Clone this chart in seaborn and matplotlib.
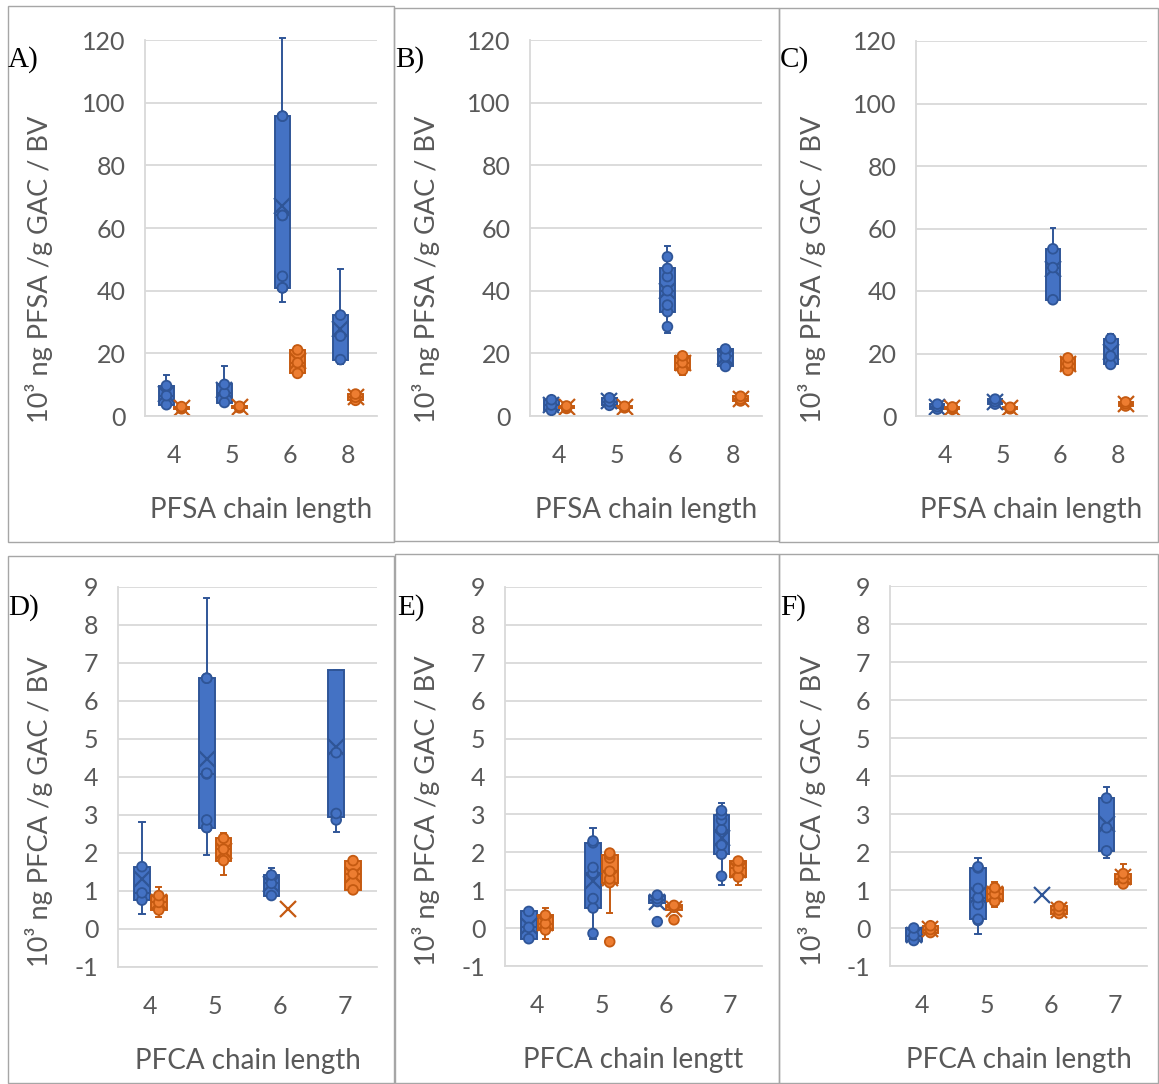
import numpy as np
import pandas as pd
import matplotlib
matplotlib.use("Agg")
import matplotlib.pyplot as plt
from matplotlib.patches import Rectangle
import seaborn as sns

plt.rcParams['font.family'] = ['Lato', 'DejaVu Sans']

# ---------------- data ----------------
series = ['Series 1', 'Series 2']
cats_pfsa = ['4', '5', '6', '8']
cats_pfca = ['4', '5', '6', '7']

ylabel_pfsa = '10³ ng PFSA /g GAC / BV'
ylabel_pfca = '10³ ng PFCA /g GAC / BV'
xlabels = ['PFSA chain length', 'PFSA chain length', 'PFSA chain length',
           'PFCA chain length', 'PFCA chain lengtt', 'PFCA chain length']
panel_tags = ['A)', 'B)', 'C)', 'D)', 'E)', 'F)']

A_blue = [[3.0, 3.6, 6.5, 9.7, 13.1], [3.9, 4.3, 7.3, 10.1, 16.0],
          [36.5, 40.9, 40.9, 44.6, 64.0, 64.0, 95.7, 95.7, 120.5], [16.5, 18.0, 25.5, 32.2, 46.9]]
A_orange = [[2.0, 2.3, 2.6, 3.0, 3.3], [2.3, 2.6, 2.9, 3.1, 3.3],
            [13.0, 13.6, 17.0, 21.1, 22.4], [4.5, 5.0, 6.0, 7.0, 7.5]]

B_blue = [[1.0, 1.8, 3.5, 5.2, 5.8], [3.0, 3.4, 4.6, 5.8, 6.4],
          [26.4, 28.5, 33.3, 35.4, 40.0, 44.5, 47.1, 50.8, 54.2], [15.0, 15.8, 19.0, 21.4, 22.3]]
B_orange = [[2.0, 2.4, 2.8, 3.2, 3.6], [2.3, 2.6, 2.9, 3.1, 3.3],
            [13.2, 14.6, 17.0, 19.2, 20.2], [4.2, 4.8, 5.4, 6.3, 6.8]]

C_blue = [[1.5, 2.2, 3.0, 3.8, 4.2], [3.2, 3.8, 4.6, 5.4, 6.0],
          [36.8, 37.2, 47.5, 53.5, 60.1], [15.8, 16.5, 19.2, 24.8, 26.4]]
C_orange = [[1.8, 2.1, 2.5, 2.9, 3.1], [2.0, 2.3, 2.6, 2.8, 3.0],
            [13.6, 14.6, 16.8, 18.6, 19.6], [2.6, 3.2, 3.9, 4.5, 5.0]]

D_blue = [[0.40, 0.76, 0.95, 1.64, 2.82], [1.95, 2.67, 2.67, 2.87, 4.08, 4.10, 6.60, 6.60, 8.70],
          [0.83, 0.88, 1.20, 1.42, 1.61], [2.54, 2.87, 3.04, 4.64, 6.82, 6.82, 6.82]]
D_orange = [[0.32, 0.50, 0.70, 0.88, 1.10], [1.42, 1.80, 2.10, 2.39, 2.52],
            [0.52], [0.97, 1.03, 1.45, 1.80, 1.84]]

E_blue = [[-0.30, -0.28, 0.02, 0.44, 0.46], [-0.29, -0.14, 0.53, 0.78, 1.45, 1.60, 2.25, 2.30, 2.65],
          [0.17, 0.65, 0.70, 0.78, 0.87, 0.89], [1.13, 1.37, 1.95, 2.19, 2.60, 2.85, 2.99, 3.10, 3.31]]
E_orange = [[-0.28, -0.05, 0.12, 0.34, 0.54], [-0.36, 0.39, 1.20, 1.30, 1.50, 1.85, 1.94, 1.98, 2.02],
            [0.22, 0.48, 0.55, 0.60, 0.65], [1.13, 1.35, 1.58, 1.77, 1.80]]

F_blue = [[-0.36, -0.33, -0.20, 0.00, 0.03], [-0.16, 0.20, 0.23, 0.62, 0.80, 1.04, 1.58, 1.61, 1.83],
          [0.88], [1.85, 2.03, 2.64, 3.42, 3.71]]
F_orange = [[-0.20, -0.12, -0.04, 0.06, 0.15], [0.54, 0.70, 0.90, 1.06, 1.21],
            [0.30, 0.38, 0.47, 0.57, 0.66], [1.10, 1.16, 1.30, 1.43, 1.69]]

yticks_pfsa = [0, 20, 40, 60, 80, 100, 120]
yticks_pfca = [-1, 0, 1, 2, 3, 4, 5, 6, 7, 8, 9]

# ---------------- style ----------------
FILL = {'Series 1': '#4472C4', 'Series 2': '#ED7D31'}
EDGE = {'Series 1': '#2F5597', 'Series 2': '#C55A11'}
TXT = '#595959'
GRID = '#d9d9d9'
BOX_WIDTH = 0.52
W, H = 1159, 1084

fig = plt.figure(figsize=(W / 100, H / 100), dpi=100)

# panel frames (pixels: x0, y0, x1, y1)
frames = [(8, 6, 394, 542), (394, 8, 779, 541), (779, 8, 1158, 542),
          (8, 556, 394, 1083), (395, 554, 779, 1083), (779, 554, 1158, 1083)]
for (x0, y0, x1, y1) in frames:
    fig.add_artist(Rectangle((x0 / W, 1 - y1 / H), (x1 - x0) / W, (y1 - y0) / H,
                             transform=fig.transFigure, fill=False,
                             edgecolor='#a6a6a6', linewidth=1.0))

# plot areas (pixels: left, top, right, bottom)
areas = [(145, 40, 377, 416), (530, 40, 762, 416), (916, 41, 1147, 416),
         (118, 587, 377, 967), (505, 587, 762, 966), (890, 586, 1147, 966)]
ylab_right = [53, 440, 826, 53, 440, 826]
tag_pos = [(8, 67), (395, 67), (780, 67), (8, 615), (397, 615), (780, 615)]

panels = [(cats_pfsa, A_blue, A_orange), (cats_pfsa, B_blue, B_orange), (cats_pfsa, C_blue, C_orange),
          (cats_pfca, D_blue, D_orange), (cats_pfca, E_blue, E_orange), (cats_pfca, F_blue, F_orange)]


def make_df(cats, blue, orange):
    rows = []
    for s, groups in zip(series, (blue, orange)):
        for c, vals in zip(cats, groups):
            for v in vals:
                rows.append((c, s, v))
    return pd.DataFrame(rows, columns=['chain', 'series', 'value'])


def inner_points_df(cats, blue, orange):
    """Points drawn as circles: values strictly inside the whisker range, plus outliers."""
    rows = []
    for s, groups in zip(series, (blue, orange)):
        for c, vals in zip(cats, groups):
            a = np.asarray(vals, float)
            if len(a) < 2:
                continue
            q1, q3 = np.percentile(a, [25, 75])
            lo_f, hi_f = q1 - 1.5 * (q3 - q1), q3 + 1.5 * (q3 - q1)
            inl = a[(a >= lo_f) & (a <= hi_f)]
            lo, hi = inl.min(), inl.max()
            for v in a:
                if (lo < v < hi) or v < lo_f or v > hi_f:
                    rows.append((c, s, v))
    return pd.DataFrame(rows, columns=['chain', 'series', 'value'])


def hide_degenerate(ax, np0, nl0):
    for p in ax.patches[np0:]:
        v = p.get_path().vertices
        if np.ptp(v[:, 1]) < 1e-12:
            p.set_visible(False)
            xmn, xmx, yv = v[:, 0].min(), v[:, 0].max(), v[0, 1]
            for ln in ax.lines[nl0:]:
                xd = np.asarray(ln.get_xdata(), float)
                yd = np.asarray(ln.get_ydata(), float)
                if len(xd) >= 2 and np.allclose(yd, yv) and xmn - 1e-6 <= xd.mean() <= xmx + 1e-6:
                    ln.set_visible(False)


for i, (cats, blue, orange) in enumerate(panels):
    L, T, R, B = areas[i]
    ax = fig.add_axes([L / W, 1 - B / H, (R - L) / W, (B - T) / H])
    df = make_df(cats, blue, orange)
    pts = inner_points_df(cats, blue, orange)

    for s in series:
        np0, nl0 = len(ax.patches), len(ax.lines)
        sns.boxplot(data=df[df.series == s], x='chain', y='value', hue='series',
                    order=cats, hue_order=series, palette=FILL, saturation=1,
                    width=BOX_WIDTH, gap=0.06, dodge=True, whis=1.5,
                    linecolor=EDGE[s], linewidth=1.4, showfliers=False,
                    showmeans=True, capwidths=0.08,
                    meanprops=dict(marker='x', markeredgecolor=EDGE[s],
                                   markerfacecolor=EDGE[s], markersize=11,
                                   markeredgewidth=1.6),
                    legend=False, ax=ax)
        hide_degenerate(ax, np0, nl0)

    for ln in ax.lines:
        ln.set_clip_on(False)

    for s in series:
        nc0 = len(ax.collections)
        sub = pts[pts.series == s]
        if len(sub) == 0:
            continue
        sns.stripplot(data=sub, x='chain', y='value', hue='series',
                      order=cats, hue_order=series, palette=FILL, dodge=True,
                      jitter=False, size=7, linewidth=1.3, edgecolor=EDGE[s],
                      legend=False, zorder=3, ax=ax)
        factor = (BOX_WIDTH / 4) / 0.2
        for coll in ax.collections[nc0:]:
            off = np.array(coll.get_offsets(), dtype=float)
            if len(off):
                c = np.round(off[:, 0])
                off[:, 0] = c + (off[:, 0] - c) * factor
                coll.set_offsets(off)

    yt = yticks_pfsa if i < 3 else yticks_pfca
    ax.set_ylim(yt[0], yt[-1])
    ax.set_yticks(yt)
    ax.set_yticklabels([str(t) for t in yt])
    ax.set_xlim(-0.5, len(cats) - 0.5)
    ax.yaxis.grid(True, color=GRID, linewidth=1.3)
    ax.set_axisbelow(True)
    for sp in ['top', 'right']:
        ax.spines[sp].set_visible(False)
    for sp in ['left', 'bottom']:
        ax.spines[sp].set_color(GRID)
        ax.spines[sp].set_linewidth(1.3)
    ax.tick_params(axis='both', length=0, labelsize=18, labelcolor=TXT)
    ax.tick_params(axis='y', pad=14)
    ax.tick_params(axis='x', pad=20)
    ax.set_xlabel(xlabels[i], fontsize=20, color=TXT, labelpad=22)
    ax.set_ylabel(ylabel_pfsa if i < 3 else ylabel_pfca, fontsize=19.5, color=TXT)
    ax.yaxis.set_label_coords((ylab_right[i] - L) / (R - L), 0.39 if i < 3 else 0.41)
    ax.set_facecolor('white')

    tx, ty = tag_pos[i]
    fig.text(tx / W, 1 - ty / H, panel_tags[i], fontsize=21, color='black',
             family=['Liberation Serif', 'DejaVu Serif'], ha='left', va='baseline')

fig.savefig('out.png', dpi=100)
